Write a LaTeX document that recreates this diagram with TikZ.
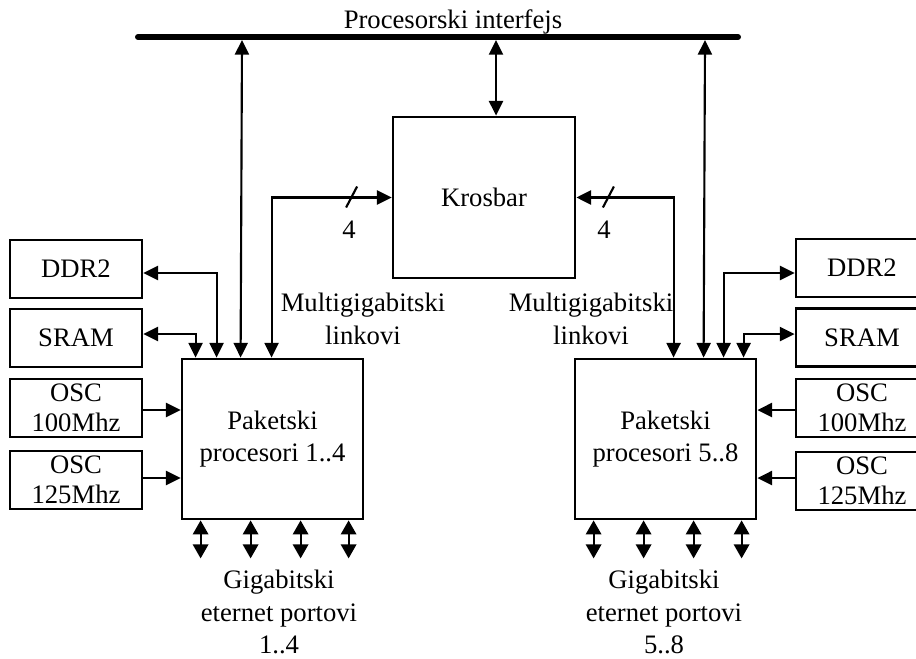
\documentclass[tikz,border=0pt]{standalone}
\usepackage{fontspec}
\setmainfont{Liberation Serif}
\usetikzlibrary{arrows.meta,calc}
\begin{document}
\begin{tikzpicture}[x=0.75pt,y=-0.75pt,
  >={Triangle[length=11pt,width=10.5pt]},
  txt/.style={font=\fontsize{20}{24.5}\selectfont, align=center, inner sep=0pt},
  block/.style={draw, line width=2.1pt, inner sep=0pt, txt},
  side/.style={block, minimum width=99pt, minimum height=43.5pt},
  oscbox/.style={side, font=\fontsize{20}{22.5}\selectfont},
  proc/.style={block, minimum width=135.75pt, minimum height=120pt},
  wire/.style={line width=1.6pt},
  port/.style={line width=1.6pt, {Triangle[length=10.5pt,width=11.5pt]}-{Triangle[length=10.5pt,width=11.5pt]}},
  bus/.style={line width=4.5pt, line cap=round}
]
\useasboundingbox (0,0) rectangle (916,659);
\clip (0,0) rectangle (916,659);

% processor interface bus
\coordinate (busL) at (138,37);
\coordinate (busR) at (738,37);
\draw[bus] (busL) -- (busR);
\node[txt, anchor=base] (buslbl) at (453,29) {Procesorski interfejs};

% main blocks
\node[block, minimum width=136.5pt, minimum height=120.75pt] (kros) at (484,197.5) {Krosbar};
\node[proc] (procL) at (272.5,439) {Paketski\\procesori 1..4};
\node[proc] (procR) at (665.5,439) {Paketski\\procesori 5..8};

% memories and oscillators, left side
\node[side] (ddrL) at (76,269) {DDR2};
\node[side] (sramL) at (76,338) {SRAM};
\node[oscbox] (osc1L) at (76,408) {OSC\\100Mhz};
\node[oscbox] (osc2L) at (76,480) {OSC\\125Mhz};

% memories and oscillators, right side
\node[side] (ddrR) at (862,268) {DDR2};
\node[side] (sramR) at (862,337.5) {SRAM};
\node[oscbox] (osc1R) at (862,408) {OSC\\100Mhz};
\node[oscbox] (osc2R) at (862,481) {OSC\\125Mhz};

% attachment points on top of the processor blocks
\coordinate (tL1) at ($(procL.north west)+(15,0)$);
\coordinate (tL2) at ($(procL.north west)+(36,0)$);
\coordinate (tL3) at ($(procL.north west)+(60,0)$);
\coordinate (tL4) at ($(procL.north west)+(91,0)$);
\coordinate (tR1) at ($(procR.north west)+(100,0)$);
\coordinate (tR2) at ($(procR.north west)+(130,0)$);
\coordinate (tR3) at ($(procR.north west)+(150,0)$);
\coordinate (tR4) at ($(procR.north west)+(170,0)$);

% taps on the bus
\coordinate (bL) at ($(busL)+(104,3)$);
\coordinate (bC) at ($(busL)+(358,3)$);
\coordinate (bR) at ($(busL)+(567,3)$);

% bus connections
\draw[wire,<->] (bL) -- (tL3);
\draw[wire,<->] (bR) -- (tR2);
\draw[wire,<->] (bC) -- (bC |- kros.north);

% multigigabit links to the crossbar
\draw[wire,<->] (tL4) |- (kros.west);
\draw[wire,<->] (tR1) |- (kros.east);
\coordinate (sl1) at ($(kros.west)+(-40,0)$);
\coordinate (sl2) at ($(kros.east)+(32,0)$);
\draw[wire] ($(sl1)+(-5.5,10)$) -- ($(sl1)+(5.5,-11)$);
\draw[wire] ($(sl2)+(-5.5,10)$) -- ($(sl2)+(5.5,-11)$);
\node[txt] (n4L) at (349,230) {4};
\node[txt] (n4R) at (604,230) {4};

% memory connections
\draw[wire,<->] ([yshift=-3pt]ddrL.east) -| (tL2);
\draw[wire,<->] ([yshift=3pt]sramL.east) -| (tL1);
\draw[wire,<->] ([yshift=-3.75pt]ddrR.west) -| (tR3);
\draw[wire,<->] ([yshift=2.6pt]sramR.west) -| (tR4);

% clock inputs
\draw[wire,->] ([yshift=-1.5pt]osc1L.east) -- ([yshift=-1.5pt]osc1L.east -| procL.west);
\draw[wire,->] ([yshift=1.5pt]osc2L.east) -- ([yshift=1.5pt]osc2L.east -| procL.west);
\draw[wire,->] ([yshift=-1.5pt]osc1R.west) -- ([yshift=-1.5pt]osc1R.west -| procR.east);
\draw[wire,->] ([yshift=2.25pt]osc2R.west) -- ([yshift=2.25pt]osc2R.west -| procR.east);

% gigabit ethernet ports
\foreach \dx [count=\i] in {20,70,120,168} {
  \coordinate (pL\i) at ($(procL.south west)+(\dx,0)$);
  \coordinate (eL\i) at ($(pL\i)+(0,38)$);
  \draw[port] (pL\i) -- (eL\i);
  \coordinate (pR\i) at ($(procR.south west)+(\dx,0)$);
  \coordinate (eR\i) at ($(pR\i)+(0,38)$);
  \draw[port] (pR\i) -- (eR\i);
}

% labels
\node[txt] (mgL) at (363,319) {Multigigabitski\\linkovi};
\node[txt] (mgR) at (591,319) {Multigigabitski\\linkovi};
\node[txt] (geL) at (279,612) {Gigabitski\\eternet portovi\\1..4};
\node[txt] (geR) at (664,612) {Gigabitski\\eternet portovi\\5..8};
\end{tikzpicture}
\end{document}
